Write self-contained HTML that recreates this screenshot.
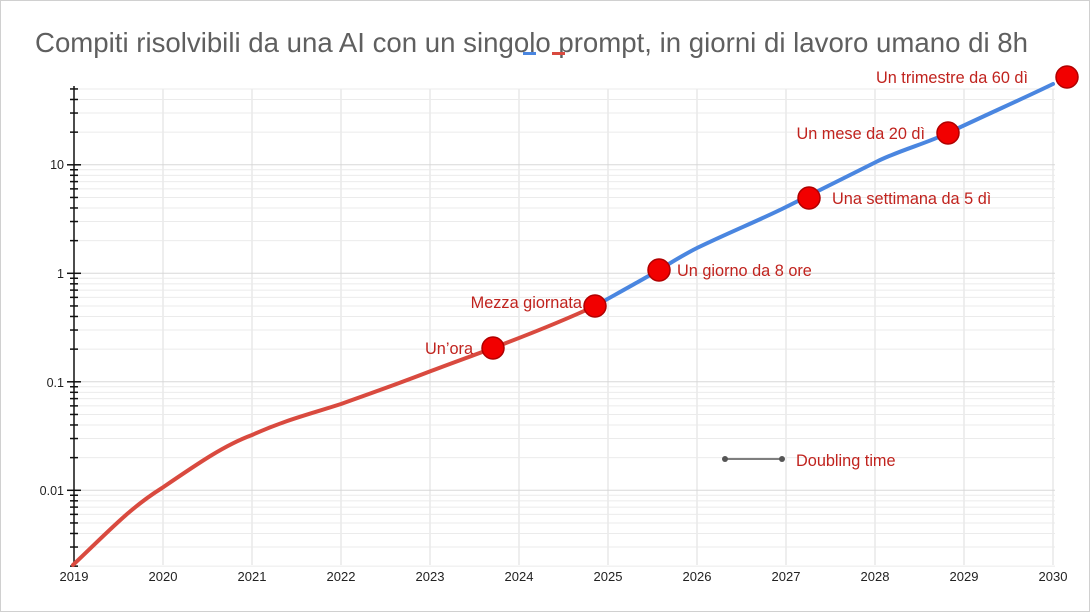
<!DOCTYPE html>
<html><head><meta charset="utf-8"><style>
html,body{margin:0;padding:0;background:#fff;}
body{width:1090px;height:612px;overflow:hidden;}
svg{display:block;font-family:"Liberation Sans",Arial,sans-serif;}
</style></head><body>
<svg id="s" width="1090" height="612" viewBox="0 0 1090 612">
<rect x="0.5" y="0.5" width="1089" height="611" fill="#fff" stroke="#d0d0d0"/>
<g id="grid"></g>
<text x="35" y="52" font-size="27.5" fill="#5f5f5f" textLength="993" lengthAdjust="spacingAndGlyphs">Compiti risolvibili da una AI con un singolo prompt, in giorni di lavoro umano di 8h</text>
<rect x="523" y="52" width="13" height="3" fill="#4a86e0"/>
<rect x="552" y="52" width="13" height="3" fill="#d94a3f"/>
<g font-size="12.5" fill="#222" text-anchor="end">
<text x="64" y="169">10</text>
<text x="64" y="278">1</text>
<text x="64" y="387">0.1</text>
<text x="64" y="495">0.01</text>
</g>
<g font-size="13" fill="#222" text-anchor="middle">
<text x="74" y="581">2019</text><text x="163" y="581">2020</text><text x="252" y="581">2021</text>
<text x="341" y="581">2022</text><text x="430" y="581">2023</text><text x="519" y="581">2024</text>
<text x="608" y="581">2025</text><text x="697" y="581">2026</text><text x="786" y="581">2027</text>
<text x="875" y="581">2028</text><text x="964" y="581">2029</text><text x="1053" y="581">2030</text>
</g>
<path d="M73,565 C110,530 130,508 162,488 C200,462 225,445 252,435 C285,420 310,414 341,404 C375,392 405,381 431,371 C460,360 480,353 493,348 C530,334 565,320 595,306" fill="none" stroke="#d94a3f" stroke-width="4" stroke-linecap="round"/>
<path d="M595,306 C620,292 640,281 659,270 C675,260 685,254 697,248 C730,232 760,220 786,207 C820,190 850,175 876,162 C900,150 925,144 948,133 C990,113 1020,100 1053,84" fill="none" stroke="#4a86e0" stroke-width="4" stroke-linecap="round"/>
<g fill="#f20000" stroke="#b00000" stroke-width="1.5">
<circle cx="493" cy="348" r="11"/><circle cx="595" cy="306" r="11"/><circle cx="659" cy="270" r="11"/>
<circle cx="809" cy="198" r="11"/><circle cx="948" cy="133" r="11"/><circle cx="1067" cy="77" r="11"/>
</g>
<g font-size="16.3" fill="#c0231e">
<text x="473" y="354" text-anchor="end">Un’ora</text>
<text x="582" y="308" text-anchor="end">Mezza giornata</text>
<text x="677" y="276">Un giorno da 8 ore</text>
<text x="832" y="204">Una settimana da 5 dì</text>
<text x="925" y="139" text-anchor="end">Un mese da 20 dì</text>
<text x="1028" y="83" text-anchor="end">Un trimestre da 60 dì</text>
<text x="796" y="466">Doubling time</text>
</g>
<line x1="725" y1="459" x2="782" y2="459" stroke="#555" stroke-width="1.5"/>
<circle cx="725" cy="459" r="3" fill="#555"/><circle cx="782" cy="459" r="3" fill="#555"/>
</svg>
<script>
var g=document.getElementById('grid'),h='';
function Y(v){return 273.3-108.5*Math.log10(v);}
var xs=[74,163,252,341,430,519,608,697,786,875,964,1053];
xs.forEach(function(x,i){if(i>0)h+='<line x1="'+x+'" y1="89" x2="'+x+'" y2="565" stroke="#dcdcdc" stroke-width="1"/>';});
var dec=[0.001,0.01,0.1,1,10];
dec.forEach(function(d){for(var k=1;k<=9;k++){var v=d*k;if(v<0.0019||v>50.5)continue;var y=Y(v);
h+='<line x1="74" y1="'+y+'" x2="1055" y2="'+y+'" stroke="'+(k==1?'#d8d8d8':'#ebebeb')+'" stroke-width="1"/>';
var w=k==1?7:4;h+='<line x1="'+(74-w)+'" y1="'+y+'" x2="'+(74+w)+'" y2="'+y+'" stroke="#111" stroke-width="1.5"/>';}});
h+='<line x1="74" y1="86" x2="74" y2="566" stroke="#111" stroke-width="1.5"/>';
g.innerHTML=h;
</script>
</body></html>
